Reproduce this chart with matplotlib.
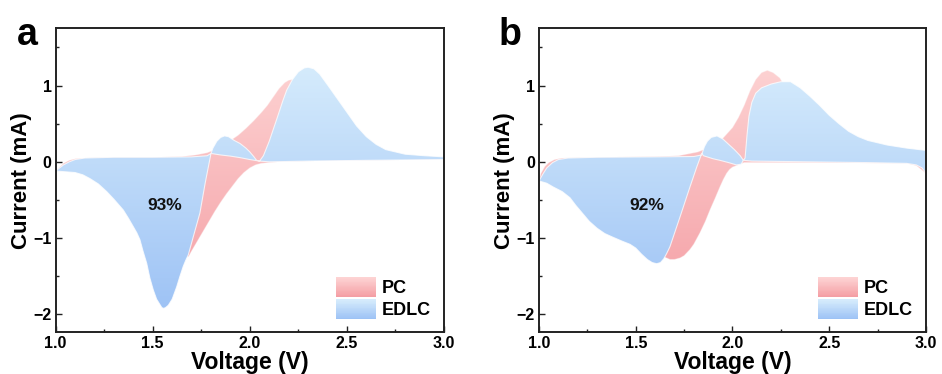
import numpy as np
import matplotlib
matplotlib.use("Agg")
import matplotlib.pyplot as plt
from matplotlib.colors import LinearSegmentedColormap
from matplotlib.patches import Patch, Rectangle
from matplotlib.legend_handler import HandlerBase
from matplotlib.ticker import MultipleLocator, FixedLocator

plt.rcParams['font.family'] = ['Liberation Sans', 'DejaVu Sans']
plt.rcParams['font.weight'] = 'bold'

# ---------------- data (V, mA) ----------------
# Panel a, PC (total) : forward (anodic) scan and reverse (cathodic) scan
a_pc_fwd_v = [1.00, 1.02, 1.04, 1.07, 1.10, 1.15, 1.30, 1.50, 1.65, 1.72, 1.78, 1.82, 1.86, 1.90,
              1.94, 1.98, 2.02, 2.06, 2.09, 2.12, 2.15, 2.18, 2.20, 2.22, 2.24, 2.27, 2.32, 2.40,
              2.50, 2.60, 2.80, 3.00]
a_pc_fwd_i = [-0.12, -0.07, -0.02, 0.02, 0.04, 0.05, 0.06, 0.06, 0.07, 0.09, 0.12, 0.16, 0.21, 0.28,
              0.35, 0.44, 0.54, 0.65, 0.74, 0.85, 0.96, 1.04, 1.07, 1.08, 1.05, 0.95, 0.75, 0.45,
              0.25, 0.14, 0.08, 0.06]
a_pc_rev_v = [3.00, 2.60, 2.30, 2.15, 2.10, 2.06, 2.03, 2.00, 1.97, 1.94, 1.91, 1.88, 1.85, 1.82,
              1.79, 1.76, 1.73, 1.70, 1.685, 1.67, 1.65, 1.63, 1.58, 1.50, 1.40, 1.30, 1.20, 1.10, 1.00]
a_pc_rev_i = [0.03, 0.02, 0.01, 0.00, -0.01, -0.02, -0.04, -0.08, -0.14, -0.22, -0.32, -0.42, -0.53, -0.65,
              -0.78, -0.91, -1.04, -1.17, -1.24, -1.25, -1.22, -1.15, -0.95, -0.65, -0.40, -0.25, -0.17, -0.13, -0.12]

# Panel a, EDLC
a_ed_fwd_v = [1.00, 1.02, 1.04, 1.07, 1.10, 1.15, 1.30, 1.50, 1.70, 1.78, 1.80, 1.81, 1.83, 1.85,
              1.87, 1.89, 1.92, 1.95, 1.98, 2.00, 2.02, 2.035, 2.05, 2.07, 2.10, 2.14, 2.17, 2.19,
              2.22, 2.25, 2.28, 2.30, 2.33, 2.36, 2.40, 2.45, 2.50, 2.55, 2.60, 2.65, 2.70, 2.80,
              2.90, 3.00]
a_ed_fwd_i = [-0.12, -0.08, -0.04, 0.00, 0.03, 0.05, 0.06, 0.06, 0.065, 0.08, 0.11, 0.18, 0.27, 0.32,
              0.34, 0.33, 0.28, 0.24, 0.18, 0.13, 0.07, 0.02, 0.01, 0.08, 0.27, 0.57, 0.80, 0.94,
              1.08, 1.18, 1.23, 1.24, 1.22, 1.15, 1.01, 0.83, 0.65, 0.47, 0.33, 0.23, 0.16, 0.10,
              0.08, 0.065]
a_ed_rev_v = [3.00, 2.60, 2.30, 2.10, 2.05, 2.00, 1.95, 1.90, 1.85, 1.80, 1.77, 1.743, 1.709, 1.683,
              1.67, 1.657, 1.64, 1.623, 1.60, 1.58, 1.566, 1.556, 1.547, 1.537, 1.52, 1.503, 1.485,
              1.469, 1.45, 1.434, 1.418, 1.40, 1.375, 1.348, 1.30, 1.263, 1.22, 1.177, 1.14, 1.10,
              1.05, 1.00]
a_ed_rev_i = [0.03, 0.02, 0.01, 0.00, 0.01, 0.03, 0.055, 0.075, 0.09, 0.11, -0.28, -0.67, -0.98, -1.22,
              -1.29, -1.37, -1.50, -1.64, -1.80, -1.88, -1.91, -1.92, -1.91, -1.87, -1.80, -1.68, -1.52,
              -1.33, -1.17, -1.02, -0.93, -0.85, -0.74, -0.63, -0.49, -0.39, -0.29, -0.22, -0.17, -0.14,
              -0.13, -0.12]

# Panel b, PC
b_pc_fwd_v = [1.00, 1.01, 1.03, 1.05, 1.08, 1.12, 1.30, 1.60, 1.72, 1.78, 1.82, 1.85, 1.90, 1.95,
              2.00, 2.03, 2.06, 2.09, 2.12, 2.15, 2.18, 2.21, 2.245, 2.28, 2.35, 2.45, 2.60, 2.80, 3.00]
b_pc_fwd_i = [-0.25, -0.15, -0.06, -0.01, 0.03, 0.05, 0.06, 0.07, 0.08, 0.11, 0.13, 0.16, 0.24, 0.31,
              0.45, 0.58, 0.74, 0.93, 1.08, 1.17, 1.20, 1.17, 1.10, 0.95, 0.70, 0.45, 0.28, 0.18, 0.12]
b_pc_rev_v = [3.00, 2.95, 2.90, 2.40, 2.10, 2.06, 2.03, 2.00, 1.985, 1.97, 1.953, 1.935, 1.91, 1.884,
              1.86, 1.832, 1.80, 1.78, 1.75, 1.729, 1.70, 1.677, 1.65, 1.60, 1.50, 1.40, 1.30, 1.20,
              1.10, 1.00]
b_pc_rev_i = [-0.15, -0.05, -0.02, -0.01, -0.01, -0.01, -0.04, -0.07, -0.10, -0.15, -0.23, -0.33, -0.48, -0.63,
              -0.78, -0.93, -1.08, -1.15, -1.23, -1.26, -1.28, -1.28, -1.25, -1.15, -0.85, -0.60, -0.45, -0.35,
              -0.28, -0.25]

# Panel b, EDLC
b_ed_fwd_v = [1.00, 1.02, 1.04, 1.07, 1.10, 1.15, 1.30, 1.60, 1.80, 1.84, 1.855, 1.87, 1.89, 1.92,
              1.95, 1.98, 2.01, 2.04, 2.056, 2.065, 2.075, 2.085, 2.10, 2.12, 2.15, 2.20, 2.25, 2.30,
              2.35, 2.40, 2.45, 2.50, 2.55, 2.60, 2.65, 2.70, 2.80, 2.90, 3.00]
b_ed_fwd_i = [-0.25, -0.16, -0.08, -0.01, 0.03, 0.05, 0.06, 0.065, 0.07, 0.09, 0.20, 0.27, 0.32, 0.34,
              0.30, 0.23, 0.16, 0.08, 0.02, 0.05, 0.35, 0.60, 0.78, 0.90, 0.97, 1.02, 1.05, 1.05,
              0.97, 0.86, 0.74, 0.61, 0.50, 0.40, 0.33, 0.28, 0.22, 0.18, 0.15]
b_ed_rev_v = [3.00, 2.98, 2.95, 2.90, 2.70, 2.40, 2.10, 2.056, 2.045, 2.02, 1.98, 1.935, 1.90, 1.85,
              1.841, 1.815, 1.78, 1.729, 1.677, 1.66, 1.645, 1.628, 1.608, 1.585, 1.56, 1.53, 1.50,
              1.47, 1.43, 1.384, 1.34, 1.30, 1.26, 1.22, 1.19, 1.16, 1.12, 1.074, 1.04, 1.00]
b_ed_rev_i = [-0.15, -0.08, -0.04, -0.02, -0.01, 0.00, 0.01, 0.02, -0.03, -0.04, -0.01, 0.02, 0.04, 0.08,
              0.11, -0.07, -0.33, -0.72, -1.11, -1.20, -1.27, -1.32, -1.335, -1.32, -1.28, -1.21, -1.13,
              -1.08, -1.04, -0.99, -0.94, -0.87, -0.78, -0.66, -0.57, -0.47, -0.39, -0.33, -0.28, -0.25]

panel_letters = ['a', 'b']
ratio_labels = ['93%', '92%']
legend_labels = ['PC', 'EDLC']
xticks = [1.0, 1.5, 2.0, 2.5, 3.0]
yticks = [-2, -1, 0, 1]

# ---------------- styling ----------------
PINK_TOP, PINK_BOT = '#fdd3d3', '#f49ea4'
BLUE_TOP, BLUE_BOT = '#d6ecfc', '#9dc2f5'
XLIM = (1.0, 3.0)
YLIM = (-2.23, 1.75)


def grad_loop(ax, v_f, i_f, v_r, i_r, c_top, c_bot, z, edge):
    v = list(v_f) + list(v_r)
    i = list(i_f) + list(i_r)
    poly, = ax.fill(v, i, facecolor='none', edgecolor=edge, lw=0.8, zorder=z + 0.5,
                    joinstyle='round')
    cmap = LinearSegmentedColormap.from_list('g', [c_bot, c_top])
    img = np.linspace(0, 1, 256).reshape(-1, 1)
    im = ax.imshow(img, extent=[XLIM[0], XLIM[1], -2.0, 1.3], origin='lower',
                   aspect='auto', cmap=cmap, zorder=z, interpolation='bicubic')
    im.set_clip_path(poly)
    return poly


class GradHandler(HandlerBase):
    def __init__(self, c_top, c_bot, n=24):
        super().__init__()
        self.cmap = LinearSegmentedColormap.from_list('h', [c_bot, c_top])
        self.n = n

    def create_artists(self, legend, orig_handle, xdescent, ydescent, width, height,
                       fontsize, trans):
        arts = []
        for k in range(self.n):
            r = Rectangle((-xdescent, -ydescent + height * k / self.n), width,
                          height / self.n * 1.05, facecolor=self.cmap(k / (self.n - 1)),
                          edgecolor='none', transform=trans)
            arts.append(r)
        return arts


fig = plt.figure(figsize=(9.42, 3.74), dpi=100)
axes = [fig.add_axes([0.0591, 0.1123, 0.4122, 0.812]),
        fig.add_axes([0.5722, 0.1123, 0.4108, 0.812])]

data = [
    (a_pc_fwd_v, a_pc_fwd_i, a_pc_rev_v, a_pc_rev_i, a_ed_fwd_v, a_ed_fwd_i, a_ed_rev_v, a_ed_rev_i),
    (b_pc_fwd_v, b_pc_fwd_i, b_pc_rev_v, b_pc_rev_i, b_ed_fwd_v, b_ed_fwd_i, b_ed_rev_v, b_ed_rev_i),
]
letter_x = [0.0177, 0.5287]
ratio_pos = [(1.561, -0.57), (1.556, -0.57)]

for k, ax in enumerate(axes):
    pv, pi, prv, pri, ev, ei, erv, eri = data[k]
    grad_loop(ax, pv, pi, prv, pri, PINK_TOP, PINK_BOT, 1, (1, 1, 1, 0.35))
    grad_loop(ax, ev, ei, erv, eri, BLUE_TOP, BLUE_BOT, 2, (1, 1, 1, 0.75))
    ax.set_xlim(*XLIM)
    ax.set_ylim(*YLIM)
    ax.xaxis.set_major_locator(FixedLocator(xticks))
    ax.xaxis.set_minor_locator(MultipleLocator(0.25))
    ax.yaxis.set_major_locator(FixedLocator(yticks))
    ax.yaxis.set_minor_locator(MultipleLocator(0.5))
    ax.set_xticklabels([f'{t:.1f}' for t in xticks])
    ax.set_yticklabels([str(t).replace('-', '\u2212') for t in yticks])
    ax.tick_params(which='both', direction='in', top=False, right=False, labelsize=11.5,
                   width=1.0, pad=3, color='#222222')
    ax.tick_params(which='major', length=4)
    ax.tick_params(which='minor', length=2.5)
    for lab in ax.get_xticklabels() + ax.get_yticklabels():
        lab.set_fontweight('bold')
    for s in ax.spines.values():
        s.set_linewidth(1.4)
        s.set_color('#222222')
    ax.set_xlabel('Voltage (V)', fontsize=16.5, fontweight='bold', labelpad=0)
    ax.set_ylabel('Current (mA)', fontsize=16, fontweight='bold', labelpad=1)
    ax.text(ratio_pos[k][0], ratio_pos[k][1], ratio_labels[k], fontsize=12.5,
            fontweight='bold', ha='center', va='center', zorder=5, color='#111111')
    h_pc = Patch(label=legend_labels[0])
    h_ed = Patch(label=legend_labels[1])
    ax.legend(handles=[h_pc, h_ed], loc='lower right', frameon=False,
              handler_map={h_pc: GradHandler(PINK_TOP, PINK_BOT),
                           h_ed: GradHandler(BLUE_TOP, BLUE_BOT)},
              prop={'weight': 'bold', 'size': 13}, handlelength=2.2, handleheight=1.3,
              handletextpad=0.35, labelspacing=0.12, borderaxespad=0.3)
    fig.text(letter_x[k], 0.88, panel_letters[k], fontsize=27, fontweight='bold',
             ha='left', va='baseline')

fig.savefig('out.png', dpi=100)
